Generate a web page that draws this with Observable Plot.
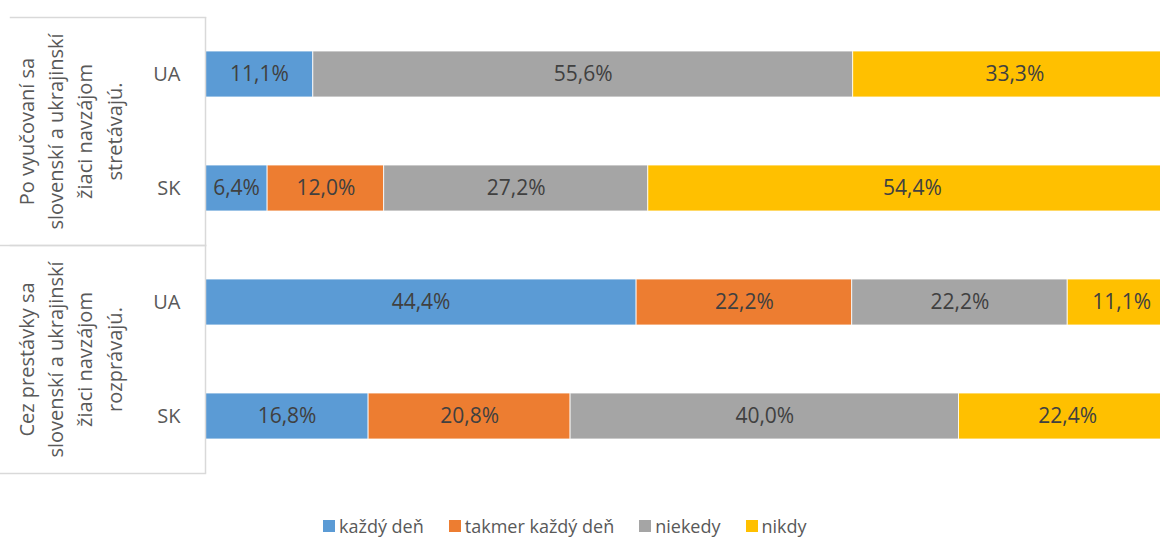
<!DOCTYPE html>
<html><head><meta charset="utf-8">
<script src="https://cdn.jsdelivr.net/npm/d3@7"></script>
<script src="https://cdn.jsdelivr.net/npm/@observablehq/plot@0.6"></script>
<style>
html,body{margin:0;padding:0;overflow:hidden;background:#fff;width:1160px;height:537px;position:relative}
#chart svg{display:block;max-width:none !important}
#legend{position:absolute;left:323px;top:514px;display:flex;align-items:center;font-family:'Open Sans',sans-serif;font-size:18px;color:#595959;line-height:24px;white-space:nowrap}
.item{display:flex;align-items:center;margin-right:25px}
.sw{width:12px;height:12px;margin-right:4px}
</style></head><body><div id="chart"></div><div id="legend"></div>
<script>
const groups = [
  "Po vyučovaní sa\nslovenskí a ukrajinskí\nžiaci navzájom\nstretávajú.",
  "Cez prestávky sa\nslovenskí a ukrajinskí\nžiaci navzájom\nrozprávajú."
];
const countries = ["UA", "SK"];
const categories = ["každý deň", "takmer každý deň", "niekedy", "nikdy"];
const colors = ["#5B9BD5", "#ED7D31", "#A5A5A5", "#FFC000"];
const afterSchoolUA = [11.1, 0, 55.6, 33.3];
const afterSchoolSK = [6.4, 12.0, 27.2, 54.4];
const breaksUA = [44.4, 22.2, 22.2, 11.1];
const breaksSK = [16.8, 20.8, 40.0, 22.4];

const series = [
  [groups[0], "UA", afterSchoolUA],
  [groups[0], "SK", afterSchoolSK],
  [groups[1], "UA", breaksUA],
  [groups[1], "SK", breaksSK]
];
const rows = [];
for (const [group, country, vals] of series) {
  vals.forEach((v, i) => { if (v > 0) rows.push({group, country, category: categories[i], value: v}); });
}
const fmt = v => v.toFixed(1).replace(".", ",") + "%";

const plot = Plot.plot({
  width: 1180, height: 500,
  marginLeft: 205, marginRight: 4, marginTop: 17, marginBottom: 27,
  style: {fontFamily: "'Open Sans', sans-serif", fontSize: "20px", color: "#595959", background: "white", maxWidth: "none"},
  x: {domain: [0, 100], axis: null},
  y: {domain: countries, paddingInner: 0.6, paddingOuter: 0.3, label: null},
  fy: {domain: groups, padding: 0, axis: null, label: null},
  color: {domain: categories, range: colors},
  marks: [
    Plot.barX(rows, Plot.stackX({x: "value", y: "country", fy: "group", fill: "category", stroke: "white", strokeOpacity: 0.8, strokeWidth: 1})),
    Plot.text(rows, Plot.stackX({x: "value", y: "country", fy: "group", z: "category", text: d => fmt(d.value), fill: "#404040", fontSize: 21})),
    Plot.axisY({tickSize: 0, tickPadding: 25, fontSize: 20, label: null, fill: "#595959"}),
    Plot.ruleX([0], {stroke: "#d9d9d9", strokeWidth: 1.5}),
    Plot.frame({anchor: "top", stroke: "#d9d9d9", strokeWidth: 1.5, insetLeft: -195, insetRight: 971}),
    Plot.frame({anchor: "bottom", stroke: "#d9d9d9", strokeWidth: 1.5, insetLeft: -205, insetRight: 971}),
    Plot.text(groups, {fy: d => d, text: d => d, frameAnchor: "left", dx: -137, rotate: -90, lineHeight: 1.46, textAnchor: "middle", lineAnchor: "middle", fill: "#595959", fontSize: 20})
  ]
});
document.getElementById("chart").appendChild(plot);

const legend = document.getElementById("legend");
categories.forEach((c, i) => {
  const it = document.createElement("div"); it.className = "item";
  const sw = document.createElement("div"); sw.className = "sw"; sw.style.background = colors[i];
  const t = document.createElement("span"); t.textContent = c;
  it.appendChild(sw); it.appendChild(t); legend.appendChild(it);
});
</script></body></html>
